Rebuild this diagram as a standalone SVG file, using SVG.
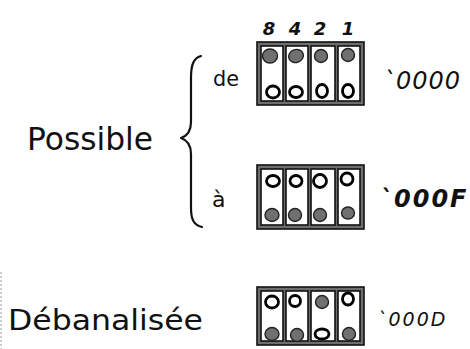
<svg xmlns="http://www.w3.org/2000/svg" width="470" height="349" viewBox="0 0 470 349">
  <style>
    .hand { font-family: "DejaVu Sans", "Liberation Sans", sans-serif; fill: #111; }
    .hex { font-family: "DejaVu Sans", "Liberation Sans", sans-serif; font-style: italic; fill: #111; }
    .frame { fill: #6e6e6e; stroke: #111; stroke-width: 1.6; }
    .cell { fill: #fff; stroke: #111; stroke-width: 1.6; }
    .on { fill: #707070; stroke: #222; stroke-width: 1.4; }
    .off { fill: #fff; stroke: #000; stroke-width: 2.8; }
    .brace { fill: none; stroke: #111; stroke-width: 2.2; stroke-linecap: round; stroke-linejoin: round; }
  </style>

  <!-- scanner edge -->
  <line x1="1" y1="272" x2="1" y2="349" stroke="#bbb" stroke-width="1.5" stroke-dasharray="2 2"/>

  <!-- bit weights -->
  <g id="weights" class="hand" font-size="18" font-style="italic" font-weight="bold" text-anchor="middle">
    <text x="269" y="35">8</text>
    <text x="295" y="35">4</text>
    <text x="320" y="35">2</text>
    <text x="348" y="35">1</text>
  </g>

  <!-- left labels -->
  <g id="label-possible">
    <text class="hand" x="27" y="150" font-size="32" textLength="126" lengthAdjust="spacingAndGlyphs">Possible</text>
  </g>
  <g id="label-de">
    <text class="hand" x="213" y="86" font-size="22" textLength="26" lengthAdjust="spacingAndGlyphs">de</text>
  </g>
  <g id="label-a">
    <text class="hand" x="212" y="207" font-size="22">à</text>
  </g>
  <g id="label-debanalisee">
    <text class="hand" x="8" y="330" font-size="28" textLength="195" lengthAdjust="spacingAndGlyphs">Débanalisée</text>
  </g>

  <!-- brace grouping the two limits -->
  <g id="connectors">
    <path class="brace" d="M201 56 C193 58 191 66 191 78 L191 122 C191 132 187 136 181 138 C187 140 191 145 191 154 L191 208 C191 220 194 225 202 227"/>
  </g>

  <!-- switch block: minimum 0000 -->
  <g id="switch-min">
    <rect class="frame" x="257" y="42" width="107" height="63"/>
    <rect class="cell" x="261" y="46" width="22" height="55"/>
    <rect class="cell" x="286" y="46" width="22" height="55"/>
    <rect class="cell" x="311" y="46" width="24" height="55"/>
    <rect class="cell" x="338" y="46" width="22" height="55"/>
    <ellipse class="on" cx="270" cy="56" rx="7.5" ry="7"/>
    <ellipse class="on" cx="296" cy="56" rx="7.5" ry="6.5" transform="rotate(-20 296 56)"/>
    <ellipse class="on" cx="321" cy="56" rx="6.5" ry="6.5"/>
    <ellipse class="on" cx="348" cy="55" rx="6.5" ry="6.5"/>
    <ellipse class="off" cx="273" cy="92" rx="6.5" ry="6"/>
    <ellipse class="off" cx="296" cy="92" rx="6.5" ry="5.5"/>
    <ellipse class="off" cx="322" cy="91" rx="5.5" ry="6.5"/>
    <ellipse class="off" cx="348" cy="91" rx="5.5" ry="6.5"/>
    <text class="hex" x="383" y="89" font-size="24" letter-spacing="1">`0000</text>
  </g>

  <!-- switch block: maximum 000F -->
  <g id="switch-max">
    <rect class="frame" x="257" y="165" width="107" height="64"/>
    <rect class="cell" x="261" y="169" width="22" height="56"/>
    <rect class="cell" x="286" y="169" width="22" height="56"/>
    <rect class="cell" x="311" y="169" width="24" height="56"/>
    <rect class="cell" x="338" y="169" width="22" height="56"/>
    <ellipse class="off" cx="273" cy="181" rx="6.5" ry="5.5"/>
    <ellipse class="off" cx="296" cy="181" rx="6" ry="5.5"/>
    <ellipse class="off" cx="320" cy="181" rx="6.5" ry="6.5"/>
    <ellipse class="off" cx="347" cy="179" rx="6" ry="6"/>
    <ellipse class="on" cx="272" cy="215" rx="7" ry="6.5"/>
    <ellipse class="on" cx="295" cy="215" rx="6.5" ry="6.5"/>
    <ellipse class="on" cx="320" cy="215" rx="6.5" ry="6.5"/>
    <ellipse class="on" cx="348" cy="213" rx="6.5" ry="6"/>
    <text class="hex" x="380" y="207" font-size="24" letter-spacing="2" font-weight="bold">`000F</text>
  </g>

  <!-- switch block: assigned value 000D -->
  <g id="switch-debanalisee">
    <rect class="frame" x="257" y="287" width="107" height="58"/>
    <rect class="cell" x="261" y="291" width="22" height="50"/>
    <rect class="cell" x="286" y="291" width="22" height="50"/>
    <rect class="cell" x="311" y="291" width="24" height="50"/>
    <rect class="cell" x="338" y="291" width="22" height="50"/>
    <ellipse class="off" cx="272" cy="302" rx="6.5" ry="6"/>
    <ellipse class="off" cx="295" cy="301" rx="5.5" ry="5.5"/>
    <ellipse class="on" cx="322" cy="302" rx="6.5" ry="6.5"/>
    <ellipse class="off" cx="348" cy="299" rx="5.5" ry="6"/>
    <ellipse class="on" cx="272" cy="334" rx="7" ry="6.5"/>
    <ellipse class="on" cx="297" cy="335" rx="6.5" ry="6.5"/>
    <ellipse class="off" cx="322" cy="334" rx="7" ry="5"/>
    <ellipse class="on" cx="349" cy="334" rx="6.5" ry="6.5"/>
    <text class="hex" x="377" y="326" font-size="19" letter-spacing="2">`000D</text>
  </g>
</svg>
